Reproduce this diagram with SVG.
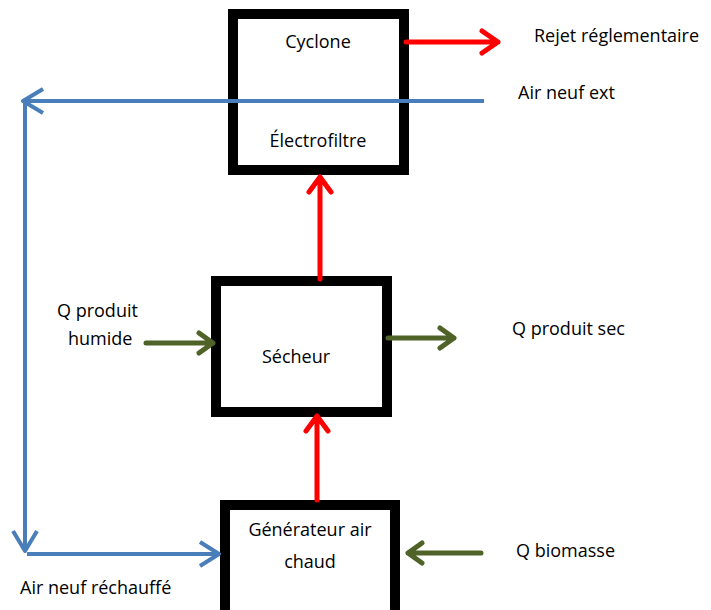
<svg xmlns="http://www.w3.org/2000/svg" width="711" height="610" viewBox="0 0 711 610">
<style>
text{font-family:"Open Sans","Liberation Sans",Arial,sans-serif;font-size:18px;fill:#000}
.box{fill:#fff;stroke:#000;stroke-width:10}
.red{stroke:#ff0000;stroke-width:5;fill:none;stroke-linecap:round;stroke-linejoin:round}
.blue{stroke:#4a7ebb;stroke-width:4;fill:none;stroke-linejoin:round}
.green{stroke:#4f6228;stroke-width:5;fill:none;stroke-linecap:round;stroke-linejoin:round}
.c{text-anchor:middle}
</style>
<rect width="711" height="610" fill="#fff"/>
<g id="cyclone">
<rect class="box" x="233" y="14" width="171" height="156"/>
<text class="c" x="318" y="48">Cyclone</text>
<text class="c" x="318" y="147">Électrofiltre</text>
</g>
<g id="secheur">
<rect class="box" x="216" y="281" width="171" height="131"/>
<text class="c" x="296" y="363">Sécheur</text>
</g>
<g id="generateur">
<rect class="box" x="225" y="505" width="170" height="115"/>
<text class="c" x="310" y="536">Générateur air</text>
<text class="c" x="310" y="568">chaud</text>
</g>
<g id="labels">
<text x="534" y="42">Rejet réglementaire</text>
<text x="518" y="99">Air neuf ext</text>
<text x="57" y="317">Q produit</text>
<text x="68" y="345">humide</text>
<text x="512" y="335">Q produit sec</text>
<text x="516" y="557">Q biomasse</text>
<text x="20" y="594">Air neuf réchauffé</text>
</g>
<g id="connectors">
<path class="blue" d="M484 101H23M43 89L23 101L43 113"/>
<path class="blue" d="M25 101V550M13 531L25 551L37 531"/>
<path class="blue" d="M27 554H219M200 542L219 554L200 566"/>
<path class="red" d="M406 42H498M482 31L498 42L482 53"/>
<path class="red" d="M320 279V177M309 192L320 177L331 192"/>
<path class="red" d="M317 500V416M306 431L317 416L328 431"/>
<path class="green" d="M146 343H213M199 333L213 343L199 353"/>
<path class="green" d="M388 338H454M440 328L454 338L440 348"/>
<path class="green" d="M481 553H408M422 543L408 553L422 563"/>
</g>
</svg>
